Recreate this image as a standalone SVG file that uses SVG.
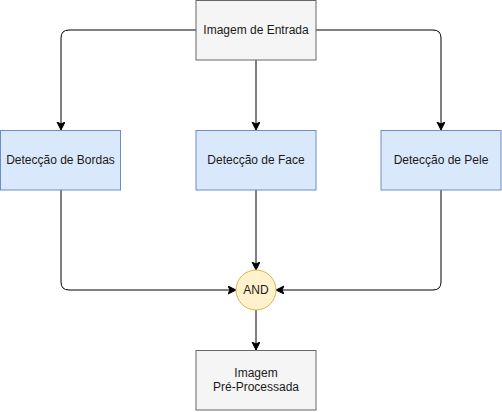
<svg xmlns="http://www.w3.org/2000/svg" width="502" height="412" viewBox="0 0 502 412">
<defs>
<marker id="arr" markerWidth="10" markerHeight="10" refX="7" refY="4" orient="auto" markerUnits="userSpaceOnUse">
<path d="M0,0 L8,4 L0,8 L2,4 Z" fill="#000" stroke="#000" stroke-width="1"/>
</marker>
<style>
.grey{fill:#f5f5f5;stroke:#666666;stroke-width:1}
.blue{fill:#dae8fc;stroke:#6c8ebf;stroke-width:1}
.yel{fill:#fff2cc;stroke:#d6b656;stroke-width:1}
.t{font-family:"Liberation Sans",Arial,Helvetica,sans-serif;font-size:12px;fill:#1a1a1a;text-anchor:middle}
.c{fill:none;stroke:#000;stroke-width:1;marker-end:url(#arr)}
</style>
</defs>
<rect width="502" height="412" fill="#ffffff"/>
<g id="connectors">
<path class="c" d="M196,30 L69,30 Q61,30 61,38 L61,129"/>
<path class="c" d="M256,60 L256,129"/>
<path class="c" d="M316,30 L433,30 Q441,30 441,38 L441,129"/>
<path class="c" d="M61,190 L61,282 Q61,290 69,290 L235,290"/>
<path class="c" d="M256,190 L256,269"/>
<path class="c" d="M441,190 L441,282 Q441,290 433,290 L277,290"/>
<path class="c" d="M256,310 L256,349"/>
</g>
<g id="entrada">
<rect class="grey" x="196" y="0.5" width="120" height="59.5"/>
<text class="t" x="256" y="34">Imagem de Entrada</text>
</g>
<g id="bordas">
<rect class="blue" x="0.5" y="130.5" width="120" height="59.5"/>
<text class="t" x="60.5" y="164">Detecção de Bordas</text>
</g>
<g id="face">
<rect class="blue" x="196" y="130.5" width="120" height="59.5"/>
<text class="t" x="256" y="164">Detecção de Face</text>
</g>
<g id="pele">
<rect class="blue" x="381" y="130.5" width="120" height="59.5"/>
<text class="t" x="441" y="164">Detecção de Pele</text>
</g>
<g id="and">
<circle class="yel" cx="256" cy="290" r="20"/>
<text class="t" x="256" y="294">AND</text>
</g>
<g id="saida">
<rect class="grey" x="196" y="350.5" width="120" height="59.5"/>
<text class="t" x="256" y="377">Imagem</text>
<text class="t" x="256" y="391">Pré-Processada</text>
</g>
</svg>
